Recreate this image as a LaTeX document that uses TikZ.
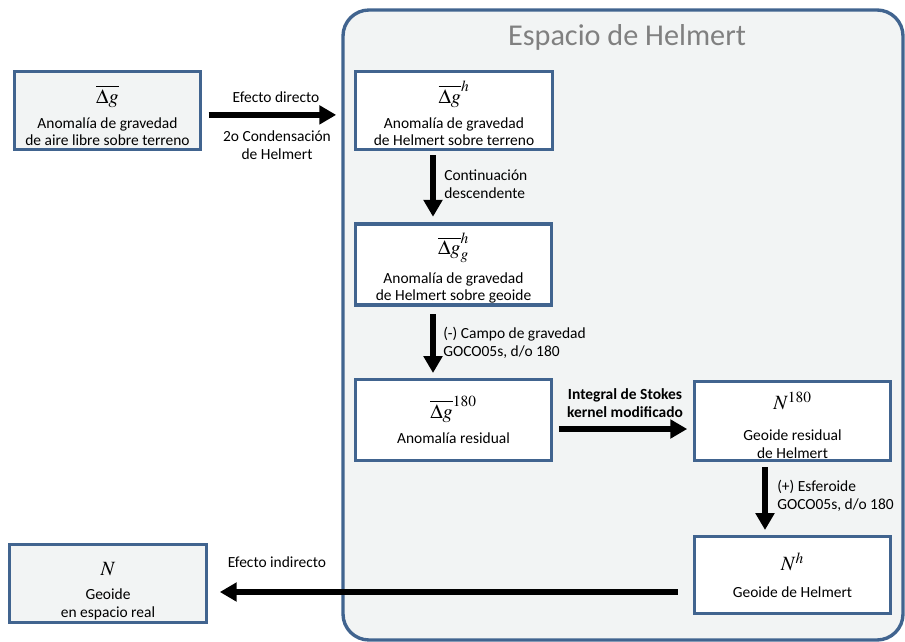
\documentclass[tikz,border=0pt]{standalone}
\usepackage{mathptmx}
\usepackage[no-math]{fontspec}
\setmainfont{Carlito}
\usetikzlibrary{arrows.meta}
\definecolor{cus-blue}{RGB}{65, 100, 143}
\definecolor{cus-gray}{RGB}{242, 244, 244}
\definecolor{cus-title}{RGB}{128, 128, 128}
\newcommand{\alto}[1]{\rule{0pt}{#1}}

\begin{document}
\begin{tikzpicture}[x=0.025cm,y=-0.025cm,
  caja/.style={draw=cus-blue, line width=2.4pt, fill=white, align=center, inner sep=1pt,
    font=\fontsize{11}{12.7}\selectfont},
  cajagris/.style={caja, fill=cus-gray},
  flecha/.style={line width=4.5pt, -{Triangle[length=12pt,width=13pt]}},
  etiq/.style={font=\fontsize{11}{12.4}\selectfont, align=center, inner sep=0pt}]
\useasboundingbox (0,0) rectangle (905,642);

% espacio de Helmert
\draw [draw=cus-blue, line width=2.4pt, fill=cus-gray, rounded corners=0.65cm] (343,10) rectangle (903,640);
\node [font=\fontsize{21.5}{25}\selectfont, text=cus-title] (titulo) at (627,37) {Espacio de Helmert};

% cajas
\node [cajagris, minimum width=4.65cm, minimum height=1.95cm] (aire) at (107.5,110.5)
  {\alto{20pt}{\Large$\overline{\Delta g}$}\\[5pt] Anomalía de gravedad\\de aire libre sobre terreno};
\node [caja, minimum width=4.925cm, minimum height=1.95cm] (helm) at (454,110.5)
  {\alto{20pt}{\Large$\overline{\Delta g}^{h}$}\\[5pt] Anomalía de gravedad\\de Helmert sobre terreno};
\node [caja, minimum width=4.9cm, minimum height=1.95cm] (geo) at (453.5,264.5)
  {\alto{21pt}{\Large$\overline{\Delta g}^{h}_{g}$}\\[5.5pt] Anomalía de gravedad\\de Helmert sobre geoide};
\node [caja, minimum width=4.9cm, minimum height=2.025cm] (res) at (453.5,420)
  {\alto{15pt}{\Large$\overline{\Delta g}^{180}$}\\[5.5pt] Anomalía residual};
\node [caja, minimum width=4.9cm, minimum height=1.975cm] (n180) at (792.5,421)
  {\alto{18.5pt}{\Large$N^{180}$}\\[9.5pt] Geoide residual\\de Helmert};
\node [caja, minimum width=4.9cm, minimum height=1.925cm] (nh) at (792.5,575)
  {{\Large$N^{h}$}\\[6.2pt] Geoide de Helmert};
\node [cajagris, minimum width=4.925cm, minimum height=1.95cm] (real) at (108,583.5)
  {\alto{20pt}{\Large$N$}\\[4.1pt] Geoide\\en espacio real};

% columnas de las flechas verticales
\coordinate (col1) at (433,0);
\coordinate (col2) at (765,0);

% flechas
\draw [flecha, shorten <=0.16cm, shorten >=0.44cm] ([yshift=-0.11cm]aire.east) -- ([yshift=-0.11cm]aire.east -| helm.west);
\draw [flecha, shorten <=0.1cm, shorten >=0.14cm] (helm.south -| col1) -- (geo.north -| col1);
\draw [flecha, shorten <=0.19cm, shorten >=0.12cm] (geo.south -| col1) -- (res.north -| col1);
\draw [flecha, shorten <=0.14cm, shorten >=0.14cm] ([yshift=-0.225cm]res.east) -- ([yshift=-0.225cm]res.east -| n180.west);
\draw [flecha, shorten <=0.12cm, shorten >=0.12cm] (n180.south -| col2) -- (nh.north -| col2);
\draw [flecha, shorten <=0.37cm, shorten >=0.29cm] ([yshift=-0.425cm]nh.west) -- ([yshift=-0.425cm]nh.west -| real.east);

% etiquetas
\node [etiq] (directo) at (276,97) {Efecto directo};
\node [etiq] (condens) at (277,145) {2o Condensación\\de Helmert};
\node [etiq, anchor=west, align=left] (contin) at (444,184) {Continuación\\descendente};
\node [etiq, anchor=west, align=left] (campo) at (443,343) {(-) Campo de gravedad\\GOCO05s, d/o 180};
\node [etiq, font=\fontsize{11}{12.4}\selectfont\bfseries] (stokes) at (625,403) {Integral de Stokes\\kernel modificado};
\node [etiq, anchor=west, align=left] (esfer) at (777,496) {(+) Esferoide\\GOCO05s, d/o 180};
\node [etiq] (indirecto) at (277,562) {Efecto indirecto};
\end{tikzpicture}
\end{document}
